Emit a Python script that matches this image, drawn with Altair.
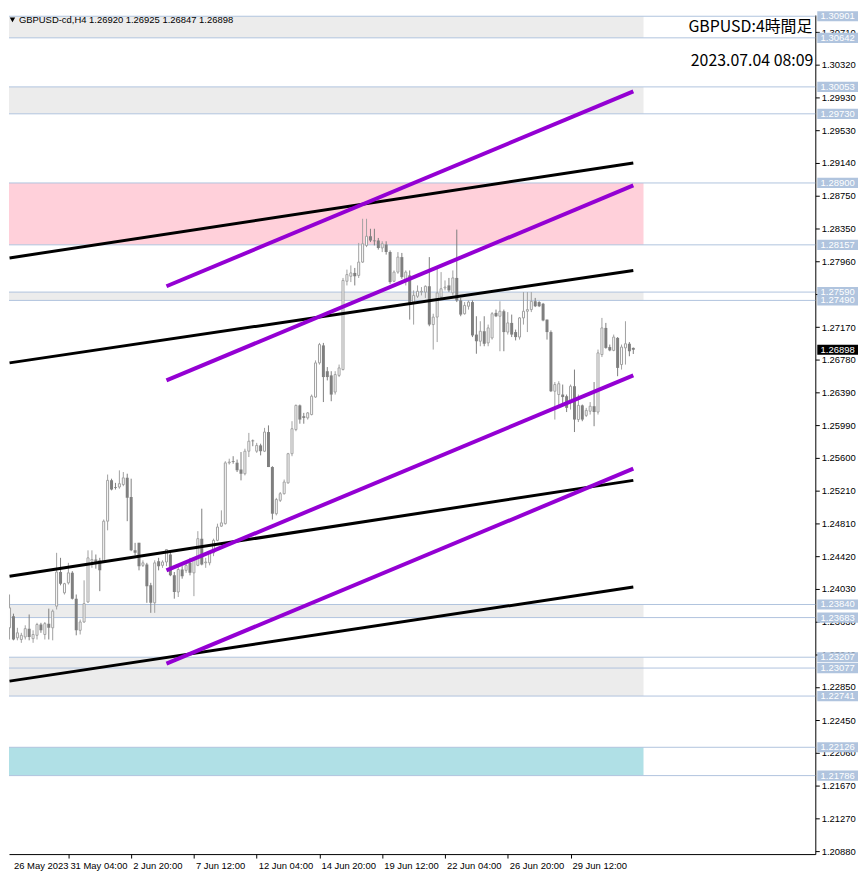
import altair as alt
import pandas as pd

# ---------------- data ----------------
opens = [1.2356,1.2370,1.2344,1.2342,1.2345,1.2355,1.2343,1.2347,1.2360,1.2348,
         1.2361,1.2356,1.2382,1.2423,1.2398,1.2410,1.2422,1.2391,1.2353,1.2363,
         1.2387,1.2436,1.2438,1.2437,1.2436,1.2484,1.2533,1.2525,1.2525,1.2528,
         1.2536,1.2513,1.2449,1.2458,1.2431,1.2432,1.2407,1.2386,1.2436,1.2431,
         1.2435,1.2444,1.2419,1.2399,1.2426,1.2425,1.2434,1.2422,1.2431,1.2463,
         1.2434,1.2434,1.2446,1.2461,1.2478,1.2481,1.2554,1.2556,1.2554,1.2546,
         1.2541,1.2568,1.2581,1.2568,1.2575,1.2568,1.2591,1.2549,1.2493,1.2509,
         1.2517,1.2530,1.2565,1.2594,1.2623,1.2610,1.2608,1.2612,1.2633,1.2674,
         1.2695,1.2664,1.2659,1.2639,1.2659,1.2666,1.2772,1.2778,1.2782,1.2779,
         1.2795,1.2815,1.2826,1.2821,1.2821,1.2812,1.2816,1.2807,1.2772,1.2783,
         1.2801,1.2773,1.2779,1.2747,1.2754,1.2759,1.2759,1.2766,1.2720,1.2729,
         1.2753,1.2764,1.2767,1.2758,1.2776,1.2749,1.2733,1.2742,1.2747,1.2708,
         1.2700,1.2712,1.2698,1.2704,1.2734,1.2730,1.2736,1.2711,1.2722,1.2711,
         1.2705,1.2728,1.2736,1.2738,1.2748,1.2747,1.2745,1.2726,1.2711,1.2640,
         1.2636,1.2636,1.2634,1.2628,1.2646,1.2606,1.2623,1.2611,1.2616,1.2622,
         1.2615,1.2684,1.2716,1.2693,1.2689,1.2704,1.2672,1.2692,1.2697,1.26920]
highs = [1.2396,1.2373,1.2356,1.2350,1.2359,1.2372,1.2353,1.2362,1.2362,1.2363,
         1.2379,1.2378,1.2446,1.2440,1.2410,1.2434,1.2424,1.2396,1.2366,1.2413,
         1.2449,1.2449,1.2444,1.2440,1.2486,1.2540,1.2535,1.2530,1.2545,1.2543,
         1.2541,1.2535,1.2458,1.2458,1.2437,1.2434,1.2410,1.2437,1.2440,1.2437,
         1.2450,1.2448,1.2423,1.2430,1.2430,1.2434,1.2440,1.2440,1.2472,1.2499,
         1.2440,1.2448,1.2463,1.2481,1.2497,1.2556,1.2559,1.2562,1.2558,1.2567,
         1.2571,1.2590,1.2582,1.2578,1.2577,1.2596,1.2599,1.2550,1.2512,1.2519,
         1.2534,1.2566,1.2604,1.2624,1.2624,1.2614,1.2615,1.2636,1.2677,1.2698,
         1.2698,1.2669,1.2664,1.2664,1.2672,1.2776,1.2786,1.2791,1.2788,1.2818,
         1.2847,1.2847,1.2835,1.2835,1.2824,1.2820,1.2820,1.2809,1.2785,1.2807,
         1.2806,1.2785,1.2785,1.2761,1.2767,1.2765,1.2767,1.2801,1.2733,1.2788,
         1.2783,1.2773,1.2776,1.2785,1.2834,1.2752,1.2747,1.2749,1.2749,1.2730,
         1.2724,1.2730,1.2720,1.2735,1.2738,1.2748,1.2738,1.2735,1.2732,1.2714,
         1.2729,1.2759,1.2759,1.2759,1.2752,1.2748,1.2746,1.2726,1.2713,1.2651,
         1.2652,1.2648,1.2636,1.2648,1.2666,1.2636,1.2624,1.2620,1.2627,1.2651,
         1.2690,1.2728,1.2722,1.2696,1.2708,1.2705,1.2696,1.2724,1.2699,1.26925]
lows = [1.2342,1.2341,1.2341,1.2338,1.2342,1.2341,1.2338,1.2342,1.2350,1.2342,
        1.2342,1.2341,1.2378,1.2407,1.2396,1.2408,1.2390,1.2347,1.2348,1.2362,
        1.2386,1.2428,1.2427,1.2400,1.2434,1.2473,1.2521,1.2522,1.2523,1.2526,
        1.2484,1.2448,1.2443,1.2425,1.2429,1.2386,1.2374,1.2374,1.2425,1.2428,
        1.2430,1.2418,1.2391,1.2393,1.2415,1.2422,1.2419,1.2394,1.2430,1.2431,
        1.2428,1.2431,1.2442,1.2460,1.2477,1.2480,1.2552,1.2553,1.2543,1.2533,
        1.2539,1.2561,1.2574,1.2566,1.2563,1.2567,1.2549,1.2486,1.2491,1.2507,
        1.2516,1.2529,1.2562,1.2592,1.2601,1.2601,1.2606,1.2611,1.2632,1.2672,
        1.2627,1.2653,1.2628,1.2636,1.2657,1.2665,1.2767,1.2771,1.2767,1.2776,
        1.2794,1.2813,1.2819,1.2815,1.2810,1.2807,1.2804,1.2769,1.2771,1.2781,
        1.2775,1.2767,1.2726,1.2720,1.2752,1.2755,1.2752,1.2718,1.2690,1.2699,
        1.2752,1.2761,1.2759,1.2755,1.2747,1.2730,1.2732,1.2738,1.2705,1.2685,
        1.2694,1.2694,1.2694,1.2702,1.2729,1.2688,1.2688,1.2708,1.2705,1.2701,
        1.2702,1.2720,1.2711,1.2735,1.2741,1.2741,1.2724,1.2702,1.2639,1.2606,
        1.2621,1.2624,1.2615,1.2618,1.2591,1.2603,1.2604,1.2609,1.2612,1.2598,
        1.2612,1.2681,1.2691,1.2688,1.2688,1.2658,1.2666,1.2672,1.2682,1.26847]
closes = [1.2380,1.2342,1.2350,1.2347,1.2355,1.2345,1.2348,1.2360,1.2353,1.2361,
          1.2356,1.2376,1.2423,1.2409,1.2409,1.2422,1.2391,1.2353,1.2363,1.2385,
          1.2440,1.2438,1.2435,1.2425,1.2484,1.2533,1.2522,1.2524,1.2529,1.2536,
          1.2512,1.2449,1.2446,1.2430,1.2434,1.2406,1.2386,1.2434,1.2430,1.2435,
          1.2450,1.2419,1.2399,1.2426,1.2418,1.2431,1.2422,1.2440,1.2463,1.2432,
          1.2435,1.2446,1.2461,1.2477,1.2482,1.2554,1.2555,1.2555,1.2545,1.2541,
          1.2568,1.2580,1.2580,1.2575,1.2568,1.2591,1.2549,1.2493,1.2510,1.2517,
          1.2531,1.2565,1.2595,1.2623,1.2606,1.2608,1.2614,1.2634,1.2674,1.2696,
          1.2657,1.2657,1.2636,1.2660,1.2668,1.2773,1.2780,1.2782,1.2778,1.2795,
          1.2817,1.2826,1.2821,1.2820,1.2812,1.2817,1.2807,1.2771,1.2783,1.2801,
          1.2777,1.2783,1.2744,1.2755,1.2760,1.2760,1.2766,1.2720,1.2729,1.2758,
          1.2763,1.2765,1.2761,1.2776,1.2749,1.2732,1.2743,1.2747,1.2707,1.2700,
          1.2712,1.2697,1.2716,1.2733,1.2730,1.2736,1.2711,1.2722,1.2708,1.2705,
          1.2728,1.2736,1.2738,1.2748,1.2742,1.2742,1.2725,1.2711,1.2640,1.2648,
          1.2649,1.2633,1.2620,1.2646,1.2606,1.2623,1.2606,1.2617,1.2622,1.2615,
          1.2686,1.2716,1.2692,1.2689,1.2705,1.2668,1.2693,1.2697,1.2688,1.26898]

levels = [1.30901, 1.30642, 1.30053, 1.29730, 1.28900, 1.28157, 1.27590, 1.27490,
          1.23840, 1.23683, 1.23207, 1.23077, 1.22741, 1.22126, 1.21786]
current_price = 1.26898

zone_lo = [1.30642, 1.29730, 1.28157, 1.27490, 1.23683, 1.22741, 1.21786]
zone_hi = [1.30901, 1.30053, 1.28900, 1.27590, 1.23840, 1.23207, 1.22126]
zone_kind = ["grey", "grey", "pink", "grey", "grey", "grey", "cyan"]
zone_from_bar = -3
zone_to_bar = 161.6

trend_kind = ["black", "black", "black", "black", "purple", "purple", "purple", "purple"]
trend_bar1 = [0, 0, 0, 0, 40, 40, 40, 40]
trend_p1 = [1.2800, 1.2674, 1.2418, 1.2292, 1.2766, 1.2653, 1.2425, 1.2313]
trend_bar2 = [159, 159, 159, 159, 159, 159, 159, 159]
trend_p2 = [1.2914, 1.2785, 1.2533, 1.2405, 1.3000, 1.2887, 1.2659, 1.2547]

y_tick_vals = [1.30710, 1.30320, 1.29930, 1.29530, 1.29140, 1.28750, 1.28350, 1.27960,
               1.27570, 1.27170, 1.26780, 1.26390, 1.25990, 1.25600, 1.25210, 1.24810,
               1.24420, 1.24030, 1.23630, 1.23240, 1.22850, 1.22450, 1.22060, 1.21670,
               1.21270, 1.20880]
x_label_bar = [1.125, 15, 31, 47, 63, 79, 95, 111, 127, 143]
x_label_text = ["26 May 2023", "31 May 04:00", "2 Jun 20:00", "7 Jun 12:00", "12 Jun 04:00",
                "14 Jun 20:00", "19 Jun 12:00", "22 Jun 04:00", "26 Jun 20:00", "29 Jun 12:00"]

header_text = "GBPUSD-cd,H4  1.26920 1.26925 1.26847 1.26898"
title_text = "GBPUSD:4時間足"
date_text = "2023.07.04 08:09"

# ---------------- tables ----------------
candles = pd.DataFrame({"idx": list(range(len(opens))), "open": opens, "high": highs,
                        "low": lows, "close": closes})
zones = pd.DataFrame({"lo": zone_lo, "hi": zone_hi, "kind": zone_kind,
                      "start": [zone_from_bar] * len(zone_lo), "end": [zone_to_bar] * len(zone_lo)})
lv = pd.DataFrame({"level": levels, "label": [f"{v:.5f}" for v in levels]})
cur = pd.DataFrame({"level": [current_price], "label": [f"{current_price:.5f}"]})
trend = pd.DataFrame({
    "line": [i for i in range(len(trend_kind)) for _ in range(2)],
    "kind": [k for k in trend_kind for _ in range(2)],
    "idx": [v for pair in zip(trend_bar1, trend_bar2) for v in pair],
    "price": [v for pair in zip(trend_p1, trend_p2) for v in pair],
})
xl_first = pd.DataFrame({"idx": x_label_bar[:1], "label": x_label_text[:1]})
xl_rest = pd.DataFrame({"idx": x_label_bar[1:], "label": x_label_text[1:]})

# ---------------- scales / axes ----------------
W, H = 812, 845
FONT = "Liberation Sans"
xs = alt.Scale(domain=[1.125, 204.125], nice=False, zero=False)
ys = alt.Scale(domain=[1.20844, 1.30916], nice=False, zero=False)
xaxis = alt.Axis(orient="bottom", values=x_label_bar[1:], labels=False, tickSize=4,
                 tickColor="black", domainColor="black", grid=False, title=None)
yaxis = alt.Axis(orient="right", values=y_tick_vals, format=".5f", tickSize=4,
                 tickColor="black", domainColor="black", grid=False, title=None,
                 labelFont=FONT, labelFontSize=9.5, labelColor="black", labelPadding=2,
                 labelFlush=False, labelOverlap=False)


def X(f):
    return alt.X(f"{f}:Q", scale=xs, axis=xaxis)


def Y(f):
    return alt.Y(f"{f}:Q", scale=ys, axis=yaxis)


layers = []
zone_colors = {"grey": "#ECECEC", "pink": "#FFD0DA", "cyan": "#B0E0E6"}
for kind, col in zone_colors.items():
    layers.append(
        alt.Chart(zones).transform_filter(f"datum.kind == '{kind}'")
        .mark_rect(clip=True, color=col)
        .encode(x=X("start"), x2="end:Q", y=Y("lo"), y2="hi:Q")
    )

layers.append(alt.Chart(lv).mark_rule(color="#B0C4DE", strokeWidth=1).encode(y=Y("level")))

cbase = alt.Chart(candles)
bull = "datum.close >= datum.open"
bear = "datum.close < datum.open"
layers.append(cbase.transform_filter(bull).mark_rule(color="#A0A0A0", strokeWidth=1, clip=True)
              .encode(x=X("idx"), y=Y("low"), y2="high:Q"))
layers.append(cbase.transform_filter(bear).mark_rule(color="#7F7F7F", strokeWidth=1, clip=True)
              .encode(x=X("idx"), y=Y("low"), y2="high:Q"))
layers.append(cbase.transform_filter(bull)
              .mark_bar(size=2, fill="white", stroke="#A0A0A0", strokeWidth=1, clip=True)
              .encode(x=X("idx"), y=Y("open"), y2="close:Q"))
layers.append(cbase.transform_filter(bear)
              .mark_bar(size=3, fill="#7F7F7F", strokeWidth=0, clip=True)
              .encode(x=X("idx"), y=Y("open"), y2="close:Q"))

tbase = alt.Chart(trend)
layers.append(tbase.transform_filter("datum.kind == 'black'")
              .mark_line(color="black", strokeWidth=3, clip=True)
              .encode(x=X("idx"), y=Y("price"), detail="line:N"))
layers.append(tbase.transform_filter("datum.kind == 'purple'")
              .mark_line(color="#9400D3", strokeWidth=4, clip=True)
              .encode(x=X("idx"), y=Y("price"), detail="line:N"))

box = "M-1,-0.25L1,-0.25L1,0.25L-1,0.25Z"
layers.append(alt.Chart(lv).mark_point(shape=box, filled=True, size=1681, opacity=1,
                                       color="#B0C4DE")
              .encode(x=alt.value(834.5), y=Y("level")))
layers.append(alt.Chart(lv).mark_text(color="white", font=FONT, fontSize=9.5,
                                      align="center", baseline="middle")
              .encode(x=alt.value(834.5), y=Y("level"), text="label:N"))
layers.append(alt.Chart(cur).mark_point(shape=box, filled=True, size=1681, opacity=1,
                                        color="black")
              .encode(x=alt.value(834.5), y=Y("level")))
layers.append(alt.Chart(cur).mark_text(color="white", font=FONT, fontSize=9.5,
                                       align="center", baseline="middle")
              .encode(x=alt.value(834.5), y=Y("level"), text="label:N"))

layers.append(alt.Chart(xl_first).mark_text(align="left", baseline="alphabetic", dx=0,
                                            font=FONT, fontSize=9.5, color="black")
              .encode(x=X("idx"), y=alt.value(860), text="label:N"))
layers.append(alt.Chart(xl_rest).mark_text(align="left", baseline="alphabetic", dx=2,
                                           font=FONT, fontSize=9.5, color="black")
              .encode(x=X("idx"), y=alt.value(860), text="label:N"))

hdr = pd.DataFrame({"t": [header_text], "title": [title_text], "date": [date_text]})
layers.append(alt.Chart(hdr).mark_point(shape="triangle-down", filled=True, size=30,
                                        color="black", opacity=1)
              .encode(x=alt.value(3.5), y=alt.value(5)))
layers.append(alt.Chart(hdr).mark_text(align="left", baseline="middle", font=FONT,
                                       fontSize=9.5, color="black")
              .encode(x=alt.value(10), y=alt.value(5), text="t:N"))
layers.append(alt.Chart(hdr).mark_text(align="right", baseline="middle",
                                       font="Noto Sans CJK JP", fontSize=16, color="black")
              .encode(x=alt.value(809), y=alt.value(12), text="title:N"))
layers.append(alt.Chart(hdr).mark_text(align="right", baseline="middle",
                                       font="Noto Sans CJK JP", fontSize=16, color="black")
              .encode(x=alt.value(810), y=alt.value(46), text="date:N"))

chart = (alt.layer(*layers)
         .properties(width=W, height=H, padding={"left": 0, "top": 0, "right": 0, "bottom": 0},
                     background="white")
         .configure_view(strokeWidth=0))

chart.save("out.html", embed_options={"renderer": "svg", "actions": False})
